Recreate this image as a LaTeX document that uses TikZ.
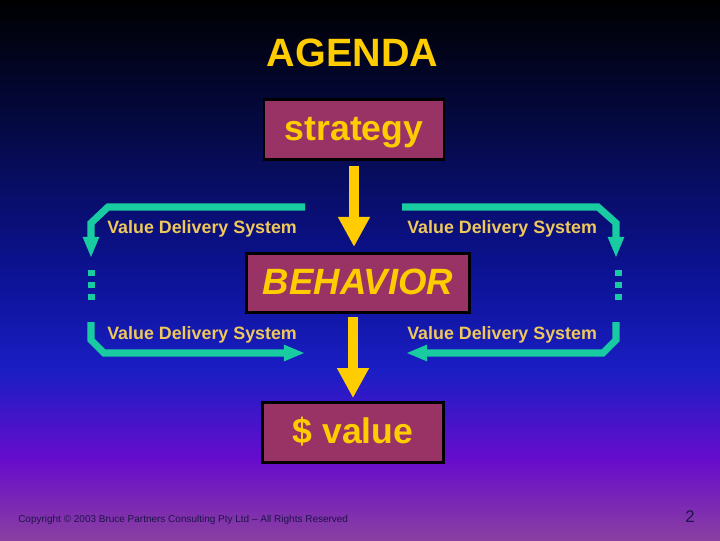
\documentclass[tikz,border=0pt]{standalone}
\usepackage{fontspec}
\setmainfont{Liberation Sans}
\usetikzlibrary{arrows.meta}
\definecolor{gold}{HTML}{FFCC00}
\definecolor{paleGold}{HTML}{EFC85C}
\definecolor{wine}{HTML}{993366}
\definecolor{vdsTeal}{HTML}{19CBA0}
\definecolor{bgA}{HTML}{050A48}
\definecolor{bgB}{HTML}{0C1292}
\definecolor{bgC}{HTML}{1A1EC4}
\definecolor{bgD}{HTML}{680CCC}
\definecolor{bgE}{HTML}{8A40A0}
\definecolor{footInk}{HTML}{1E1448}
\tikzset{
  box/.style={draw=black, line width=2.1pt, fill=wine, text=gold,
    inner sep=0pt, minimum height=42pt, text height=18pt, text depth=3pt},
  boxfont/.style={font=\fontsize{25.3}{30}\selectfont\bfseries},
  yarrow/.style={draw=gold, line width=7.1pt,
    -{Triangle[length=21.3pt,width=21.3pt]}},
  vds/.style={draw=vdsTeal, line width=5pt,
    -{Triangle[length=15pt,width=10.7pt]}},
  vdslabel/.style={text=paleGold, anchor=base west, inner sep=0pt,
    font=\fontsize{12.7}{15}\selectfont\bfseries},
}
\begin{document}
\begin{tikzpicture}[x=0.025cm,y=-0.025cm]
      \useasboundingbox (0,0) rectangle (720,540);
      % Background
      \fill[top color=black, bottom color=bgA] (0,0) rectangle (720,136);
      \fill[top color=bgA, bottom color=bgB] (0,135) rectangle (720,271);
      \fill[top color=bgB, bottom color=bgC] (0,270) rectangle (720,371);
      \fill[top color=bgC, bottom color=bgD] (0,370) rectangle (720,461);
      \fill[top color=bgD, bottom color=bgE] (0,460) rectangle (720,540);
      % Title
      \node[text=gold, anchor=base, font=\fontsize{28.1}{32}\selectfont\bfseries]
        (agenda) at (352.5,66) {AGENDA};
      % Boxes
      \node[box, boxfont, minimum width=128pt] (strategy) at (354,129.5) {strategy};
      \node[box, minimum width=158pt, text depth=1pt,
        font=\fontsize{26}{30}\selectfont\bfseries\itshape]
        (behavior) at (358,283) {BEHAVIOR};
      \node[box, boxfont, minimum width=128.7pt, minimum height=42.7pt, text depth=2.6pt]
        (value) at (353,432.5) {\$ value};
      % Yellow arrows
      \draw[yarrow, shorten <=3.6pt, shorten >=3.6pt]
        (strategy.south) -- (strategy.south |- behavior.north);
      \draw[yarrow, shorten <=2.1pt, shorten >=2.1pt]
        (value.north |- behavior.south) -- (value.north);
      % Value delivery labels
      \node[vdslabel] (vdsTL) at (107,233.3) {Value Delivery System};
      \node[vdslabel] (vdsTR) at (407,233.3) {Value Delivery System};
      \node[vdslabel] (vdsBL) at (107,339.3) {Value Delivery System};
      \node[vdslabel] (vdsBR) at (407,339.3) {Value Delivery System};
      % Teal loops
      \coordinate (tlFrom) at (305,207);
      \coordinate (tlTo) at (91,258);
      \coordinate (trFrom) at (402,207);
      \coordinate (trTo) at (616,258);
      \coordinate (blFrom) at (91,322);
      \coordinate (blTo) at (305,353);
      \coordinate (brFrom) at (616,322);
      \coordinate (brTo) at (406,353);
      \draw[vds] (tlFrom) -- ++(-197,0) -- ++(-17,16) -- (tlTo);
      \draw[vds] (trFrom) -- ++(196,0) -- ++(18,16) -- (trTo);
      \draw[vds] (blFrom) -- ++(0,18) -- ++(13,13) -- (blTo);
      \draw[vds] (brFrom) -- ++(0,18) -- ++(-13,13) -- (brTo);
      \foreach \y in {272.5,284.5,296.5}{
        \fill[vdsTeal] (87.5,{\y-3}) rectangle (94.5,{\y+3});
        \fill[vdsTeal] (615,{\y-3}) rectangle (622,{\y+3});
      }
      % Footer
      \node[text=footInk, anchor=base west, inner sep=0pt, font=\fontsize{7.1}{9}\selectfont]
        (copyright) at (18,522.5)
        {Copyright \textcopyright{} 2003 Bruce Partners Consulting Pty Ltd -- All Rights Reserved};
      \node[text=footInk, anchor=base, font=\fontsize{11.9}{14}\selectfont]
        (pageno) at (690,522) {2};
\end{tikzpicture}
\end{document}
